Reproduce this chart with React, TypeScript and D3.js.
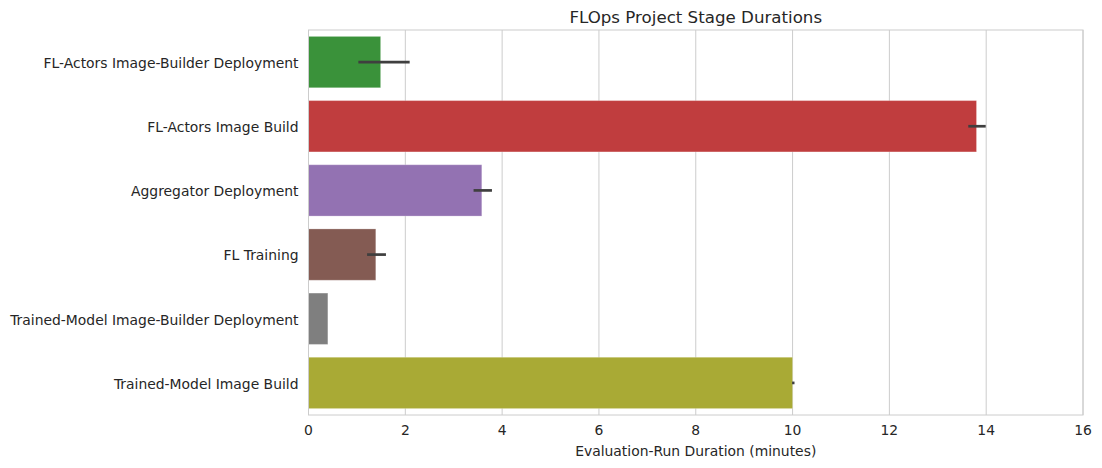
import React from "react";
import * as d3 from "d3";

const categories = [
  "FL-Actors Image-Builder Deployment",
  "FL-Actors Image Build",
  "Aggregator Deployment",
  "FL Training",
  "Trained-Model Image-Builder Deployment",
  "Trained-Model Image Build",
];
const means = [1.49, 13.8, 3.58, 1.39, 0.4, 10.0];
const ciLow = [1.03, 13.63, 3.41, 1.21, 0.4, 9.99];
const ciHigh = [2.09, 13.99, 3.79, 1.6, 0.4, 10.04];
const colors = ["#3a923a", "#c03d3e", "#9372b2", "#845b53", "#7f7f7f", "#a9aa35"];
const xTicks = [0, 2, 4, 6, 8, 10, 12, 14, 16];

const W = 1102;
const H = 468;
const M = { left: 308.5, right: 1083, top: 30, bottom: 415 };
const FONT = "DejaVu Sans, sans-serif";

export default function App() {
  const x = d3.scaleLinear().domain([0, 16]).range([M.left, M.right]);
  const y = d3
    .scaleBand<string>()
    .domain(categories)
    .range([M.top, M.bottom])
    .paddingInner(0.2)
    .paddingOuter(0.1);
  return (
    <svg
      width={W}
      height={H}
      style={{ position: "absolute", left: 0, top: 0, background: "#fff" }}
      fontFamily={FONT}
    >
      {xTicks.map((t) => (
        <line key={"g" + t} x1={x(t)} x2={x(t)} y1={M.top} y2={M.bottom} stroke="#cccccc" strokeWidth={1} />
      ))}
      {categories.map((c, i) => (
        <rect
          key={c}
          x={x(0)}
          y={y(c)!}
          width={x(means[i]) - x(0)}
          height={y.bandwidth()}
          fill={colors[i]}
          stroke="rgba(255,255,255,0.25)"
          strokeWidth={1}
        />
      ))}
      {categories.map((c, i) =>
        ciHigh[i] - ciLow[i] > 0.001 ? (
          <line
            key={"e" + c}
            x1={x(ciLow[i])}
            x2={x(ciHigh[i])}
            y1={y(c)! + y.bandwidth() / 2}
            y2={y(c)! + y.bandwidth() / 2}
            stroke="#3f3f3f"
            strokeWidth={2.7}
          />
        ) : null
      )}
      <rect
        x={M.left}
        y={M.top}
        width={M.right - M.left}
        height={M.bottom - M.top}
        fill="none"
        stroke="#cccccc"
        strokeWidth={1}
      />
      {xTicks.map((t) => (
        <text key={"t" + t} x={x(t)} y={435} textAnchor="middle" fontSize={13.9} fill="#262626">
          {t}
        </text>
      ))}
      {categories.map((c) => (
        <text
          key={"l" + c}
          x={M.left - 10}
          y={y(c)! + y.bandwidth() / 2}
          dy="0.42em"
          textAnchor="end"
          fontSize={13.9}
          fill="#262626"
        >
          {c}
        </text>
      ))}
      <text x={(M.left + M.right) / 2} y={456} textAnchor="middle" fontSize={13.9} fill="#262626">
        Evaluation-Run Duration (minutes)
      </text>
      <text x={(M.left + M.right) / 2} y={23} textAnchor="middle" fontSize={16.67} fill="#262626">
        FLOps Project Stage Durations
      </text>
    </svg>
  );
}
